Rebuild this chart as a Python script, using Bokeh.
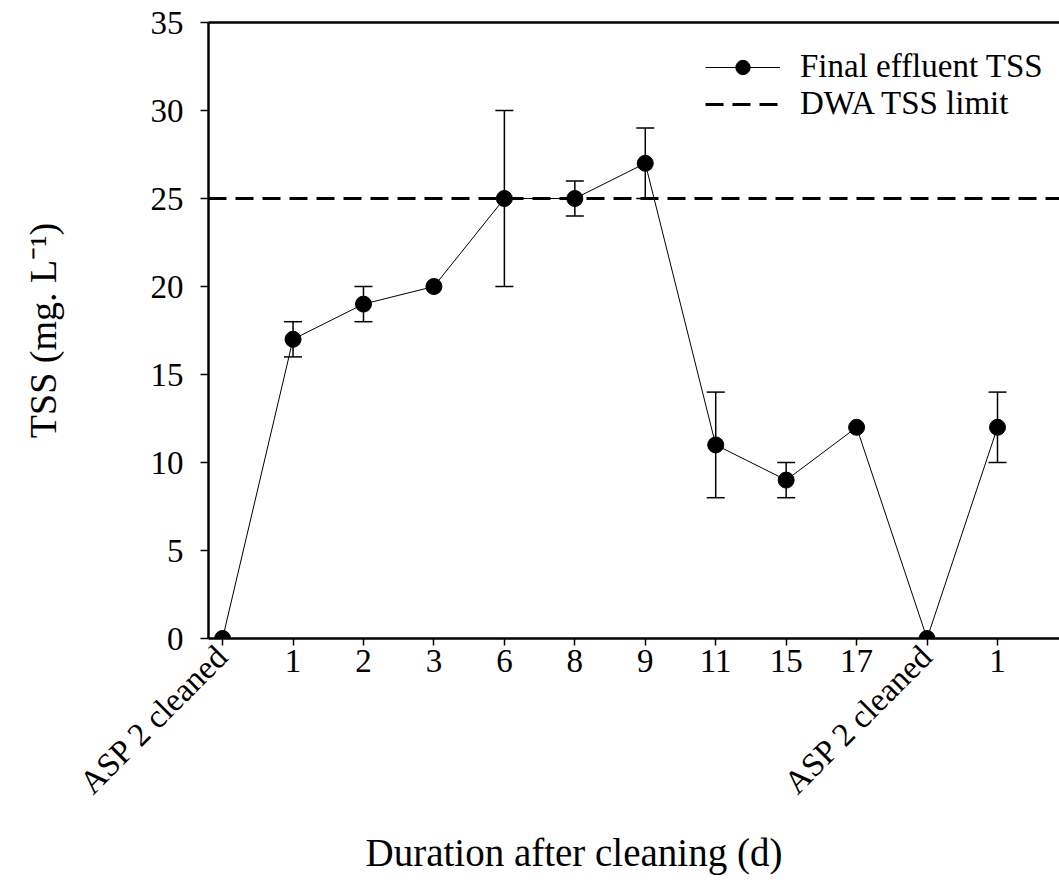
import math
from bokeh.plotting import figure
from bokeh.models import (Range1d, FixedTicker, LinearAxis, Span, Whisker, TeeHead,
                          ColumnDataSource, Legend, LegendItem, Title)
from bokeh.embed import file_html
from bokeh.resources import INLINE

# ---- data ----
categories = ["ASP 2 cleaned", "1", "2", "3", "6", "8", "9", "11", "15", "17", "ASP 2 cleaned", "1"]
tss = [0, 17, 19, 20, 25, 25, 27, 11, 9, 12, 0, 12]
err_lo = [0, 16, 18, 20, 20, 24, 25, 8, 8, 12, 0, 10]
err_hi = [0, 18, 20, 20, 30, 26, 29, 14, 10, 12, 0, 14]
y_ticks = [0, 5, 10, 15, 20, 25, 30, 35]
tss_limit = 25

FONT = "Liberation Serif"
ix = list(range(len(categories)))

p = figure(width=1059, height=889, output_backend="svg", toolbar_location=None,
           x_range=Range1d(-0.2, 11.88), y_range=Range1d(0, 35),
           min_border_left=208, min_border_right=0, min_border_top=22, min_border_bottom=251)
p.outline_line_color = None
p.grid.visible = False
p.background_fill_color = "white"

# x axis (numeric day labels)
xa = p.xaxis[0]
xa.ticker = FixedTicker(ticks=ix)
xa.major_label_overrides = {i: ("" if c.startswith("ASP") else c) for i, c in enumerate(categories)}
xa.major_tick_out = 7
xa.major_tick_in = 0
xa.minor_tick_line_color = None
xa.axis_line_width = 2.5
xa.major_tick_line_width = 1.5
xa.major_label_text_font = FONT
xa.major_label_text_font_size = "33px"
xa.major_label_text_color = "black"
xa.major_label_standoff = 4

# second bottom axis carrying the rotated "ASP 2 cleaned" labels
asp_ticks = [i for i, c in enumerate(categories) if c.startswith("ASP")]
xa2 = LinearAxis(ticker=FixedTicker(ticks=asp_ticks),
                 major_label_overrides={i: categories[i] for i in asp_ticks},
                 major_label_orientation=math.pi / 4,
                 axis_line_color=None, major_tick_line_color=None, minor_tick_line_color=None,
                 major_tick_out=0, major_tick_in=0,
                 major_label_standoff=-24,
                 major_label_text_font=FONT, major_label_text_font_size="33px",
                 major_label_text_color="black")
p.add_layout(xa2, "below")

# x axis title
xt = Title(text="Duration after cleaning (d)", align="left", offset=157,
           text_font=FONT, text_font_size="39px", text_font_style="normal",
           text_color="black", standoff=25)
p.add_layout(xt, "below")

# y axis
ya = p.yaxis[0]
ya.ticker = FixedTicker(ticks=y_ticks)
ya.major_tick_out = 8
ya.major_tick_in = 0
ya.minor_tick_line_color = None
ya.axis_line_width = 2.5
ya.major_tick_line_width = 1.5
ya.major_label_text_font = FONT
ya.major_label_text_font_size = "33px"
ya.major_label_text_color = "black"
ya.major_label_standoff = 17
ya.axis_label = "TSS (mg. L\u207b\u00b9)"
ya.axis_label_text_font = FONT
ya.axis_label_text_font_size = "38px"
ya.axis_label_text_font_style = "normal"
ya.axis_label_text_color = "black"
ya.axis_label_standoff = 84

# top border line
top = LinearAxis(ticker=FixedTicker(ticks=[]), axis_line_width=2.5,
                 major_tick_line_color=None, minor_tick_line_color=None,
                 major_label_text_font_size="0px")
p.add_layout(top, "above")

# limit line
span = Span(location=tss_limit, dimension="width", line_color="black", line_width=3,
            line_dash="18 9", level="underlay")
p.add_layout(span)

# error bars
eb = [(i, lo, hi) for i, lo, hi in zip(ix, err_lo, err_hi) if hi > lo]
wsrc = ColumnDataSource(dict(base=[e[0] for e in eb], lower=[e[1] for e in eb], upper=[e[2] for e in eb]))
wh = Whisker(source=wsrc, base="base", lower="lower", upper="upper", dimension="height",
             line_width=1.5, line_color="black", level="underlay",
             upper_head=TeeHead(size=18, line_width=1.5, line_color="black"),
             lower_head=TeeHead(size=18, line_width=1.5, line_color="black"))
p.add_layout(wh)

line_r = p.line(ix, tss, line_color="black", line_width=1)
scat_r = p.scatter(ix, tss, size=16, color="black")
# legend-only proxy for the limit line (NaN value, draws nothing in the plot)
dummy = p.line([0], [float("nan")], line_color="black", line_width=3, line_dash="18 9")

legend = Legend(items=[LegendItem(label="Final effluent TSS", renderers=[line_r, scat_r]),
                       LegendItem(label="DWA TSS limit", renderers=[dummy])],
                location=(497, 516), glyph_width=75, glyph_height=36, label_height=36,
                label_standoff=20, padding=0, spacing=0, border_line_color=None,
                background_fill_alpha=0, label_text_font=FONT, label_text_font_size="33px",
                label_text_color="black")
p.add_layout(legend)

open("out.html", "w").write(file_html(p, INLINE))
